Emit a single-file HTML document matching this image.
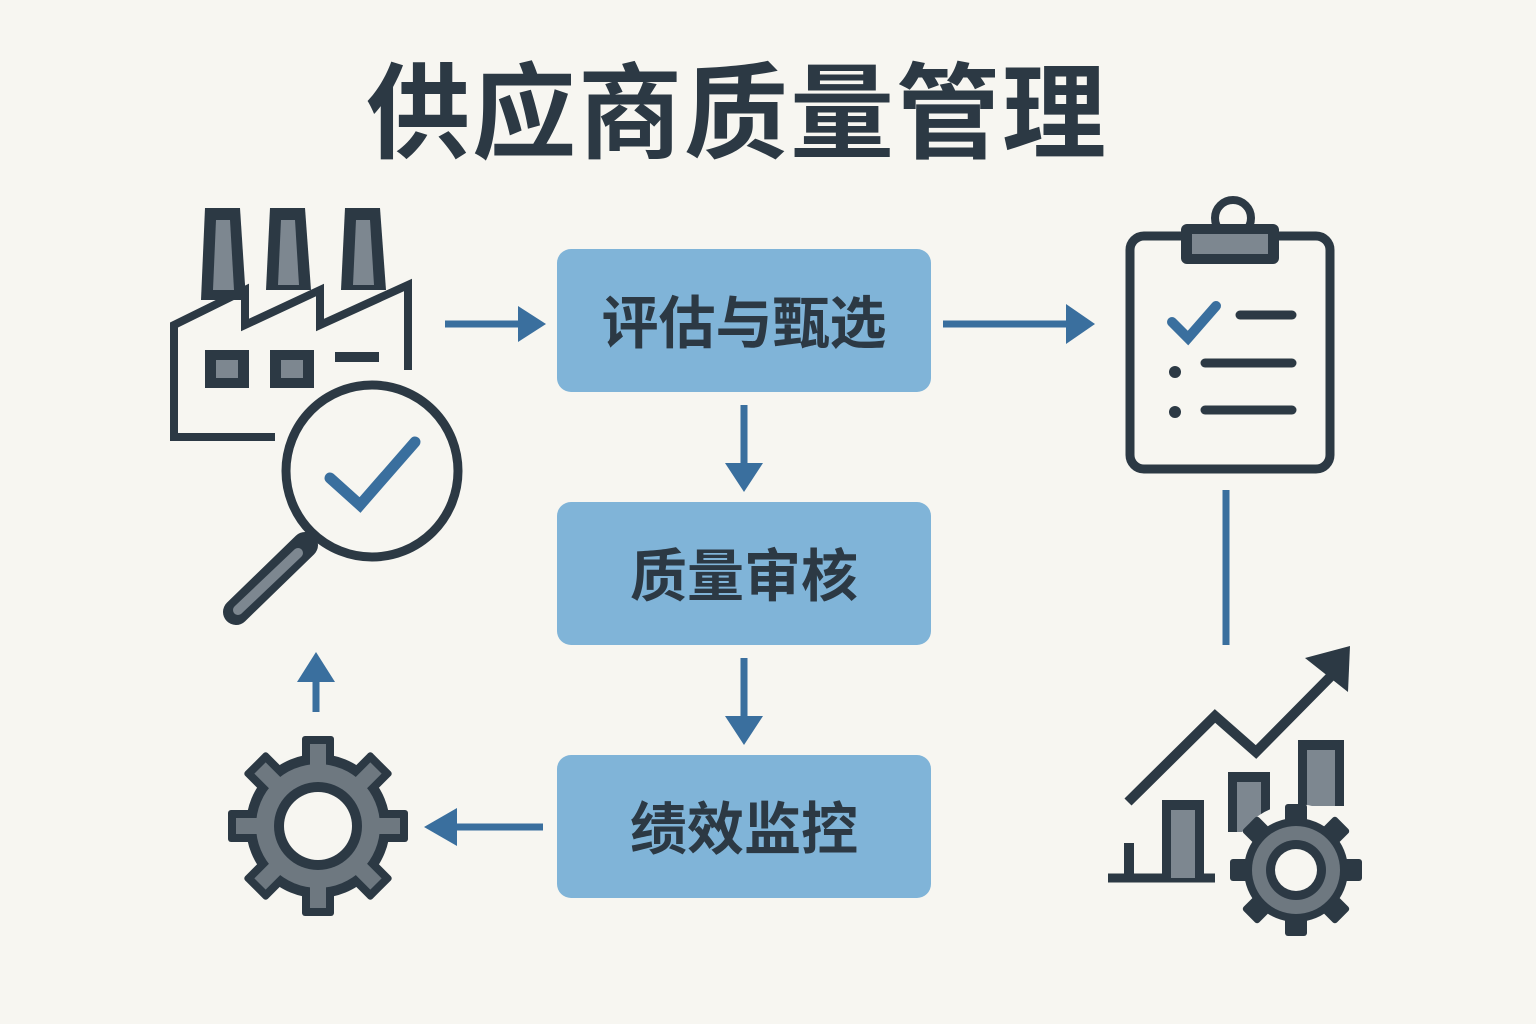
<!DOCTYPE html>
<html><head><meta charset="utf-8"><style>
html,body{margin:0;padding:0;background:#f7f6f1;}
svg{display:block}
text{font-family:"Liberation Sans","Noto Sans CJK SC",sans-serif;font-weight:bold;fill:#2c3944}
</style></head><body>
<svg width="1536" height="1024" viewBox="0 0 1536 1024" xmlns="http://www.w3.org/2000/svg">
<rect width="1536" height="1024" fill="#f7f6f1"/>
<text x="737" y="150" font-size="104" text-anchor="middle" letter-spacing="2">供应商质量管理</text>

<g fill="#80b4d8">
<rect x="557" y="249" width="374" height="143" rx="14"/>
<rect x="557" y="502" width="374" height="143" rx="14"/>
<rect x="557" y="755" width="374" height="143" rx="14"/>
</g>
<text x="744" y="343" font-size="57" text-anchor="middle">评估与甄选</text>
<text x="744" y="596" font-size="57" text-anchor="middle">质量审核</text>
<text x="744" y="849" font-size="57" text-anchor="middle">绩效监控</text>

<g stroke="#3a6f9e" stroke-width="7" fill="none">
<line x1="445" y1="324" x2="520" y2="324"/>
<line x1="943" y1="324" x2="1068" y2="324"/>
<line x1="744" y1="405" x2="744" y2="465"/>
<line x1="744" y1="658" x2="744" y2="718"/>
<line x1="543" y1="827" x2="455" y2="827"/>
<line x1="316" y1="712" x2="316" y2="680"/>
<line x1="1226" y1="490" x2="1226" y2="645"/>
</g>
<g fill="#3a6f9e">
<polygon points="518,306 546,324 518,342"/>
<polygon points="1066,304 1095,324 1066,344"/>
<polygon points="725,463 744,492 763,463"/>
<polygon points="725,716 744,745 763,716"/>
<polygon points="457,808 424,827 457,846"/>
<polygon points="297,682 316,652 335,682"/>
</g>

<g stroke="#2c3944" stroke-width="8" fill="none" stroke-linejoin="miter">
<polyline points="275,437 174,437 174,325 245,290 245,325 320,290 320,325 408,285 408,370"/>
</g>
<g fill="#2c3944">
<polygon points="205,208 240,208 246,300 201,300"/>
<polygon points="270,208 305,208 311,290 266,290"/>
<polygon points="345,208 380,208 386,290 341,290"/>
</g>
<g fill="#7d8790">
<polygon points="216,220 230,220 234,290 213,290"/>
<polygon points="281,220 295,220 299,285 278,285"/>
<polygon points="356,220 370,220 374,285 353,285"/>
</g>
<g fill="#2c3944"><rect x="205" y="350" width="44" height="38"/><rect x="270" y="350" width="44" height="38"/><rect x="335" y="352" width="44" height="10"/></g>
<g fill="#7d8790"><rect x="216" y="360" width="22" height="18"/><rect x="281" y="360" width="22" height="18"/></g>

<circle cx="372" cy="471" r="86" fill="#f7f6f1" stroke="#2c3944" stroke-width="9"/>
<polyline points="330,478 360,505 415,442" stroke="#3a6f9e" stroke-width="11" fill="none" stroke-linecap="round"/>
<line x1="305" y1="545" x2="236" y2="612" stroke="#2c3944" stroke-width="26" stroke-linecap="round"/>
<line x1="298" y1="553" x2="238" y2="610" stroke="#7d8790" stroke-width="10" stroke-linecap="round"/>

<g transform="translate(318,826)">
<g fill="#2c3944">
<circle r="72"/>
<g id="t"><rect x="-16" y="-90" width="32" height="30" rx="3"/></g>
<use href="#t" transform="rotate(45)"/><use href="#t" transform="rotate(90)"/><use href="#t" transform="rotate(135)"/>
<use href="#t" transform="rotate(180)"/><use href="#t" transform="rotate(225)"/><use href="#t" transform="rotate(270)"/><use href="#t" transform="rotate(315)"/>
</g>
<circle r="62" fill="#6e7880"/>
<g fill="#6e7880"><g id="t2"><rect x="-8" y="-82" width="16" height="24"/></g>
<use href="#t2" transform="rotate(45)"/><use href="#t2" transform="rotate(90)"/><use href="#t2" transform="rotate(135)"/>
<use href="#t2" transform="rotate(180)"/><use href="#t2" transform="rotate(225)"/><use href="#t2" transform="rotate(270)"/><use href="#t2" transform="rotate(315)"/></g>
<circle r="44" fill="#2c3944"/>
<circle r="34" fill="#f7f6f1"/>
</g>

<rect x="1130" y="236" width="200" height="233" rx="14" fill="#f7f6f1" stroke="#2c3944" stroke-width="9"/>
<circle cx="1233" cy="218" r="18" fill="none" stroke="#2c3944" stroke-width="8"/>
<rect x="1181" y="224" width="98" height="40" rx="6" fill="#2c3944"/>
<rect x="1192" y="234" width="76" height="20" fill="#7d8790"/>
<polyline points="1172,322 1188,338 1216,306" stroke="#3a6f9e" stroke-width="10" fill="none" stroke-linecap="round"/>
<g stroke="#2c3944" stroke-width="9" stroke-linecap="round">
<line x1="1240" y1="315" x2="1292" y2="315"/>
<line x1="1205" y1="363" x2="1292" y2="363"/>
<line x1="1205" y1="410" x2="1292" y2="410"/>
</g>
<circle cx="1175" cy="372" r="6" fill="#2c3944"/><circle cx="1175" cy="412" r="6" fill="#2c3944"/>

<line x1="1108" y1="878" x2="1215" y2="878" stroke="#2c3944" stroke-width="9"/>
<rect x="1124" y="843" width="10" height="35" fill="#2c3944"/>
<rect x="1162" y="800" width="42" height="78" fill="#2c3944"/><rect x="1171" y="810" width="24" height="68" fill="#7d8790"/>
<rect x="1228" y="772" width="42" height="60" fill="#2c3944"/><rect x="1237" y="782" width="24" height="50" fill="#7d8790"/>
<rect x="1298" y="740" width="46" height="66" fill="#2c3944"/><rect x="1307" y="750" width="28" height="56" fill="#7d8790"/>
<polyline points="1128,802 1215,716 1256,752 1342,665" stroke="#2c3944" stroke-width="10" fill="none"/>
<polygon points="1305,658 1350,646 1348,692" fill="#2c3944"/>
<g transform="translate(1296,870)">
<circle r="66" fill="#f7f6f1"/>
<g fill="#2c3944"><circle r="52"/>
<g id="u"><rect x="-11" y="-66" width="22" height="22" rx="3"/></g>
<use href="#u" transform="rotate(45)"/><use href="#u" transform="rotate(90)"/><use href="#u" transform="rotate(135)"/>
<use href="#u" transform="rotate(180)"/><use href="#u" transform="rotate(225)"/><use href="#u" transform="rotate(270)"/><use href="#u" transform="rotate(315)"/></g>
<circle r="44" fill="#6e7880"/>
<circle r="30" fill="#2c3944"/><circle r="21" fill="#f7f6f1"/>
</g>
</svg>
</body></html>
